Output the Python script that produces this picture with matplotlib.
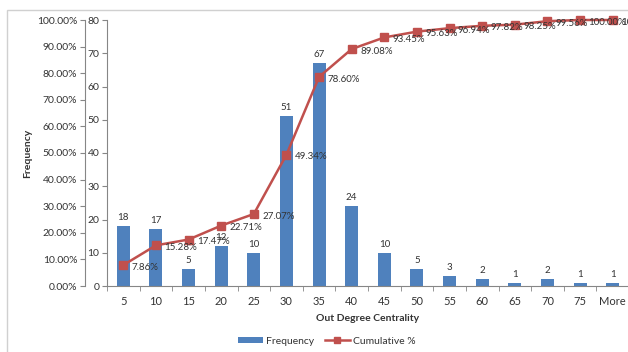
import matplotlib
matplotlib.use("Agg")
import matplotlib.pyplot as plt
from matplotlib.patches import Rectangle
from matplotlib.lines import Line2D
from matplotlib.patches import Patch
import numpy as np

plt.rcParams['font.family'] = ['Lato', 'DejaVu Sans']

# Histogram bins and counts
bins = ['5', '10', '15', '20', '25', '30', '35', '40', '45', '50',
        '55', '60', '65', '70', '75', 'More']
frequency = [18, 17, 5, 12, 10, 51, 67, 24, 10, 5, 3, 2, 1, 2, 1, 1]
cumulative_pct = [7.86, 15.28, 17.47, 22.71, 27.07, 49.34, 78.60, 89.08,
                  93.45, 95.63, 96.94, 97.82, 98.25, 99.56, 100.00, 100.00]

BAR_BLUE = '#4F81BD'
LINE_RED = '#C0504D'
AXIS_GREY = '#868686'
TEXT = '#333333'

W, H = 628, 352
fig = plt.figure(figsize=(W / 100, H / 100), dpi=100)

# Outer chart border (extends past the right and bottom edges)
fig.patches.append(Rectangle((7 / W, -0.05), 1.1, 1 - 10 / H + 0.05,
                             transform=fig.transFigure, fill=False,
                             edgecolor='#D0D0D0', linewidth=1.0))

left, right, top, bottom = 107, 629, 20, 286
ax = fig.add_axes([left / W, (H - bottom) / H, (right - left) / W, (bottom - top) / H])

x = np.arange(len(bins))
ax.bar(x, frequency, width=0.4, color=BAR_BLUE, zorder=2)
ax.set_xlim(-0.5, len(bins) - 0.5)
ax.set_ylim(0, 80)
ax.set_yticks(range(0, 81, 10))
ax.set_xticks(x)
ax.set_xticklabels(bins, fontsize=8, color=TEXT)
ax.set_xticks(np.arange(-0.5, len(bins), 1), minor=True)
ax.tick_params(axis='x', which='major', length=0, pad=7)
ax.tick_params(axis='x', which='minor', length=3.5, color=AXIS_GREY, direction='out')
ax.tick_params(axis='y', length=3.5, color=AXIS_GREY, labelsize=7.5, labelcolor=TEXT, pad=2)
for s in ('top', 'right'):
    ax.spines[s].set_visible(False)
for s in ('left', 'bottom'):
    ax.spines[s].set_color(AXIS_GREY)
    ax.spines[s].set_linewidth(0.8)

for i, v in enumerate(frequency):
    ax.annotate(str(v), (i, v), xytext=(0, 3), textcoords='offset points',
                ha='center', va='bottom', fontsize=7, color=TEXT)

ax.set_xlabel('Out Degree Centrality', fontsize=7.5, fontweight='bold', color=TEXT, labelpad=5)

# Cumulative percentage on a second left-hand axis, 22 px further out
ax2 = ax.twinx()
ax2.set_ylim(0, 100)
ax2.set_yticks(range(0, 101, 10))
ax2.set_yticklabels([f'{t:.2f}%' for t in range(0, 101, 10)])
ax2.yaxis.tick_left()
ax2.spines['left'].set_position(('outward', 22 * 72 / 100))
ax2.spines['left'].set_visible(True)
ax2.spines['left'].set_color(AXIS_GREY)
ax2.spines['left'].set_linewidth(0.8)
for s in ('top', 'right', 'bottom'):
    ax2.spines[s].set_visible(False)
ax2.tick_params(axis='y', length=3.5, color=AXIS_GREY, labelsize=7.5, labelcolor=TEXT, pad=2)

ax2.plot(x, cumulative_pct, color=LINE_RED, linewidth=1.8, marker='s',
         markersize=5.5, markerfacecolor=LINE_RED, markeredgecolor=LINE_RED,
         clip_on=False, zorder=3)
for i, c in enumerate(cumulative_pct):
    ax2.annotate(f'{c:.2f}%', (i, c), xytext=(6, -1.5), textcoords='offset points',
                 ha='left', va='center', fontsize=7, color=TEXT, annotation_clip=False)

fig.text(28 / W, 1 - 153 / H, 'Frequency', rotation=90, ha='center', va='center',
         fontsize=7.5, fontweight='bold', color=TEXT)

handles = [Patch(facecolor=BAR_BLUE, edgecolor='none'),
           Line2D([0], [0], color=LINE_RED, linewidth=1.8, marker='s',
                  markersize=5, markerfacecolor=LINE_RED)]
fig.legend(handles, ['Frequency', 'Cumulative %'], loc='center',
           bbox_to_anchor=(327 / W, 1 - 341 / H), ncol=2, frameon=False,
           fontsize=7.5, handlelength=2.4, handleheight=0.5, columnspacing=1.0,
           handletextpad=0.3, labelcolor=TEXT)

fig.savefig('out.png', dpi=100)
